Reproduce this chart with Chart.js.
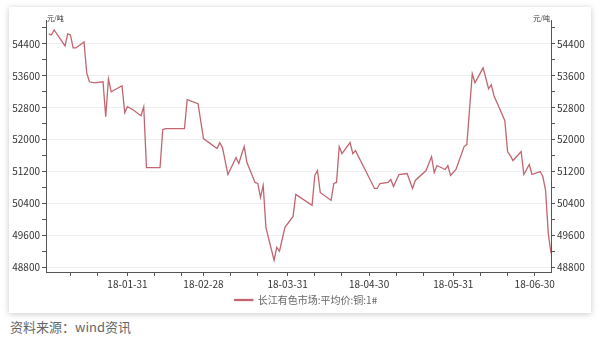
<!DOCTYPE html>
<html><head><meta charset="utf-8">
<script src="https://cdn.jsdelivr.net/npm/chart.js@4"></script>
<style>
html,body{margin:0;padding:0;background:#fff;width:612px;height:341px;overflow:hidden;}
#card{position:absolute;left:9px;top:7px;width:582px;height:306px;background:#fff;box-shadow:0 1px 6px rgba(0,0,0,0.22);}
#wrap{position:absolute;left:0;top:0;width:612px;height:315px;}
#src{position:absolute;left:10px;top:318px;font:13px "Noto Sans CJK SC",sans-serif;color:#666;line-height:18px;}
</style></head>
<body>
<div id="card"></div>
<div id="wrap"><canvas id="c" width="612" height="315"></canvas></div>
<div id="src">资料来源：wind资讯</div>
<script>
const seriesName = '长江有色市场:平均价:铜:1#';
const unitLabel = '元/吨';
const dates = ['01-02','01-03','01-04','01-08','01-09','01-10','01-11','01-12','01-15','01-16','01-17','01-19','01-22','01-23','01-24','01-25','01-29','01-30','01-31',
'02-02','02-05','02-06','02-07','02-12','02-13','02-14','02-21','02-22','02-26','02-28',
'03-05','03-06','03-07','03-09','03-12','03-13','03-15','03-16','03-19','03-20','03-21','03-22','03-23','03-26','03-27','03-28','03-30',
'04-02','04-03','04-09','04-10','04-11','04-12','04-16','04-17','04-18','04-19','04-20','04-23','04-24','04-25',
'05-02','05-03','05-04','05-07','05-08','05-09','05-11','05-14','05-16','05-17','05-21','05-23','05-24','05-25','05-28','05-29','05-30',
'06-01','06-04','06-05','06-07','06-08','06-11','06-13','06-14','06-15','06-19','06-20','06-21','06-22','06-25','06-26','06-28','06-29',
'07-02','07-03','07-04','07-05','07-06'];
const values = [54650,54625,54750,54350,54650,54625,54300,54300,54450,53675,53450,53425,53450,52575,53525,53200,53350,52675,52825,
52750,52600,52825,51300,51300,52250,52275,52275,53000,52900,52025,
51775,51925,51800,51125,51550,51400,51825,51425,50925,50900,50550,50850,49800,48975,49300,49200,49800,
50075,50625,50350,51100,51225,50675,50475,50900,50925,51825,51650,51925,51650,51725,
50775,50775,50900,50925,51000,50825,51125,51150,50775,50975,51225,51575,51175,51350,51250,51350,51100,
51250,51825,51875,53650,53425,53800,53275,53375,53100,52475,51700,51600,51475,51700,51125,51375,51125,
51200,51075,50725,49650,49150];
const xMajorDates = ['01-31','02-28','03-31','04-30','05-31','06-30'];
const xMinorDates = ['01-10','01-20','02-10','02-20','03-10','03-20','04-10','04-20','05-10','05-20','06-10','06-20'];
const xStart = '01-01', xEnd = '07-06';
const yTickValues = [48800,49200,49600,50000,50400,50800,51200,51600,52000,52400,52800,53200,53600,54000,54400,54800];
const yLabelValues = [48800,49600,50400,51200,52000,52800,53600,54400];
const yMin = 48680, yMax = 55000;

const lineColor = '#c2656f';
const axisColor = '#555';
const FONT = '"Noto Sans CJK SC", "Noto Sans", sans-serif';

function dayIndex(s){const [m,d]=s.split('-').map(Number);return (Date.UTC(2018,m-1,d)-Date.UTC(2018,0,1))/86400000;}
const majorMap = {}; xMajorDates.forEach(d=>{majorMap[dayIndex(d)]='18-'+d;});
const xTickVals = xMajorDates.concat(xMinorDates).map(dayIndex).sort((a,b)=>a-b);

const yAxisBase = (pos) => ({
  type:'linear', position:pos, min:yMin, max:yMax, display:true,
  afterBuildTicks: s => { s.ticks = yTickValues.map(v=>({value:v})); },
  ticks:{autoSkip:false, color:'#333', font:{size:10,family:FONT}, padding:2,
    callback: v => yLabelValues.includes(v) ? String(v) : ''},
  border:{color:axisColor, width:1},
});

const unitPlugin = {
  id:'unit',
  afterDraw(chart){
    const {ctx, chartArea} = chart;
    ctx.save();
    ctx.font = '7px ' + FONT;
    ctx.fillStyle = '#333';
    ctx.textBaseline = 'bottom';
    ctx.textAlign = 'left';
    ctx.fillText(unitLabel, chartArea.left + 1, chartArea.top + 2);
    ctx.textAlign = 'right';
    ctx.fillText(unitLabel, chartArea.right - 1, chartArea.top + 2);
    ctx.restore();
  }
};

new Chart(document.getElementById('c'), {
  type:'line',
  data:{datasets:[{label:seriesName,
    data: dates.map((d,i)=>({x:dayIndex(d), y:values[i]})),
    borderColor:lineColor, backgroundColor:lineColor, borderWidth:1.3,
    pointRadius:0, tension:0, yAxisID:'y'}]},
  options:{
    responsive:false, animation:false,
    layout:{padding:{top:20,left:0,right:0,bottom:0}},
    plugins:{
      legend:{position:'bottom', labels:{boxWidth:18, boxHeight:1, color:'#666', font:{size:10,family:FONT}, padding:6}},
      tooltip:{enabled:false}
    },
    scales:{
      x:{type:'linear', min:dayIndex(xStart), max:dayIndex(xEnd),
        afterBuildTicks: s => { s.ticks = xTickVals.map(v=>({value:v})); },
        afterFit: s => { s.height = 17; },
        ticks:{autoSkip:false, maxRotation:0, color:'#333', font:{size:10,family:FONT}, padding:2,
          callback: v => majorMap[v] || ''},
        grid:{drawOnChartArea:false, tickLength:4, tickColor:axisColor},
        border:{color:axisColor, width:1}},
      y:Object.assign(yAxisBase('left'), {
        afterFit: s => { s.width = 46; },
        grid:{tickLength:4, tickColor:axisColor,
          color: c => (c.tick && yLabelValues.includes(c.tick.value)) ? '#efefef' : 'rgba(0,0,0,0)'}}),
      y2:Object.assign(yAxisBase('right'), {
        afterFit: s => { s.width = 61; },
        grid:{drawOnChartArea:false, tickLength:4, tickColor:axisColor}})
    }
  },
  plugins:[unitPlugin]
});
</script>
</body></html>
